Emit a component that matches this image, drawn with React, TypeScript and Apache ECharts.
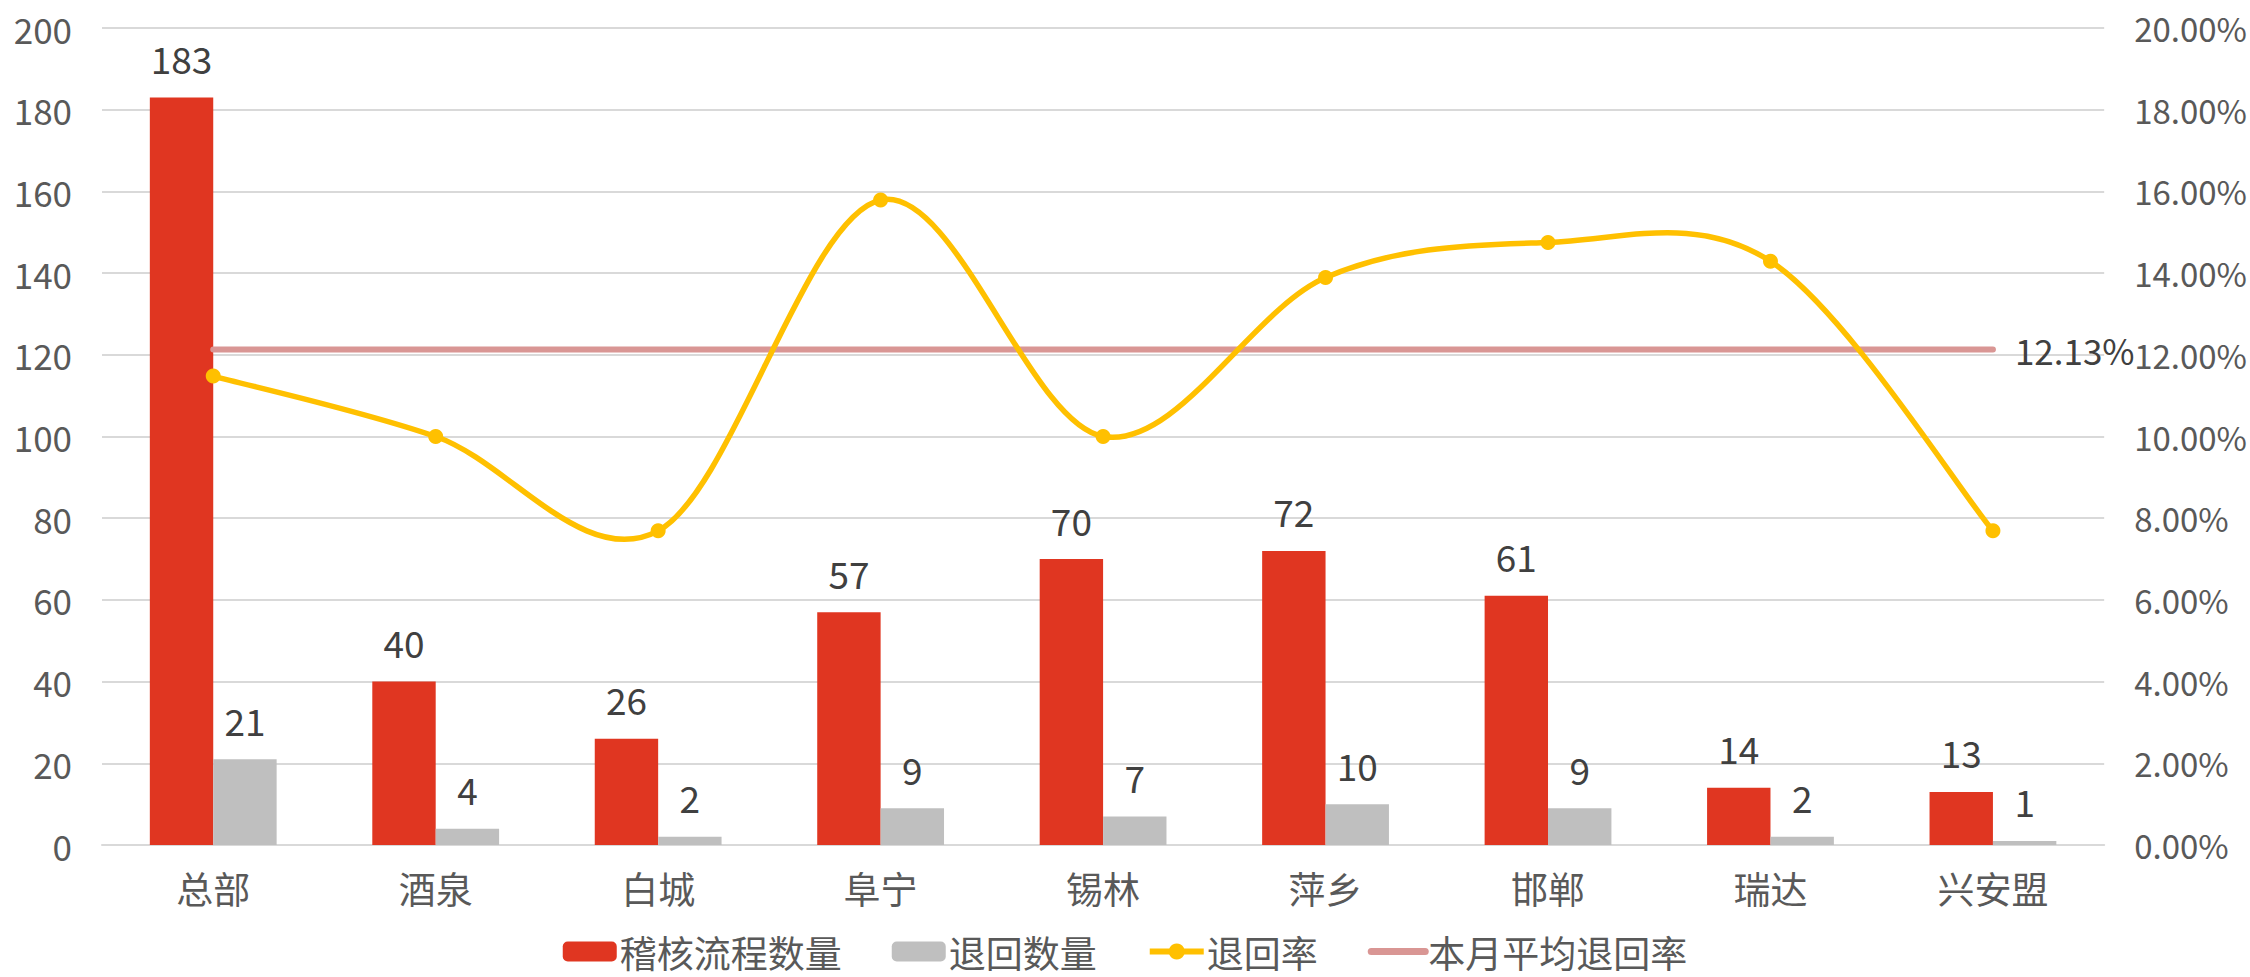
import React, { useEffect, useRef } from "react";
import * as echarts from "echarts";

const categories = ["总部", "酒泉", "白城", "阜宁", "锡林", "萍乡", "邯郸", "瑞达", "兴安盟"];
const auditCounts = [183, 40, 26, 57, 70, 72, 61, 14, 13];
const returnCounts = [21, 4, 2, 9, 7, 10, 9, 2, 1];
const returnRates = [0.1148, 0.1, 0.0769, 0.1579, 0.1, 0.1389, 0.1475, 0.1429, 0.0769];
const avgRates = [0.1213, 0.1213, 0.1213, 0.1213, 0.1213, 0.1213, 0.1213, 0.1213, 0.1213];
const avgLabel = "12.13%";
const seriesNames = ["稽核流程数量", "退回数量", "退回率", "本月平均退回率"];

const FONT = "'Noto Sans CJK SC', 'Liberation Sans', sans-serif";
const YELLOW = "#FFC000";
const PINK = "#D99694";

export default function App() {
  const ref = useRef<HTMLDivElement>(null);
  useEffect(() => {
    if (!ref.current) return;
    const chart = echarts.init(ref.current, null, { renderer: "svg", width: 2250, height: 977 });
    const labelStyle = { color: "#404040", fontSize: 37, fontFamily: FONT };

    // Excel-like smoothed curve (Catmull-Rom) drawn segment by segment
    const renderCurve = (params: any, api: any) => {
      const i = params.dataIndex;
      const n = returnRates.length;
      if (i >= n - 1) return { type: "group", children: [] };
      const pt = (k: number) => {
        const kk = Math.max(0, Math.min(n - 1, k));
        return api.coord([kk, returnRates[kk]]);
      };
      const p0 = pt(i - 1);
      const p1 = pt(i);
      const p2 = pt(i + 1);
      const p3 = pt(i + 2);
      const t = 1 / 6;
      return {
        type: "bezierCurve",
        shape: {
          x1: p1[0],
          y1: p1[1],
          cpx1: p1[0] + (p2[0] - p0[0]) * t,
          cpy1: p1[1] + (p2[1] - p0[1]) * t,
          cpx2: p2[0] - (p3[0] - p1[0]) * t,
          cpy2: p2[1] - (p3[1] - p1[1]) * t,
          x2: p2[0],
          y2: p2[1],
        },
        style: { stroke: YELLOW, lineWidth: 5.5, fill: "none", lineCap: "round" },
        silent: true,
      };
    };

    chart.setOption({
      animation: false,
      backgroundColor: "#ffffff",
      textStyle: { fontFamily: FONT },
      grid: { left: 102, right: 133, top: 28, bottom: 132, containLabel: false },
      legend: {
        bottom: 2,
        left: "center",
        itemWidth: 54,
        itemHeight: 20,
        itemGap: 50,
        textStyle: { color: "#595959", fontSize: 37, fontFamily: FONT, padding: [0, 0, 0, -2] },
        data: [
          { name: seriesNames[0] },
          { name: seriesNames[1] },
          {
            name: seriesNames[2],
            itemStyle: { color: YELLOW, opacity: 1 },
            lineStyle: { color: YELLOW, width: 6, opacity: 1 },
          },
          {
            name: seriesNames[3],
            itemStyle: { color: PINK, opacity: 0 },
            lineStyle: { color: PINK, width: 7, opacity: 1, cap: "round" },
          },
        ],
      },
      xAxis: {
        type: "category",
        data: categories,
        axisLine: { lineStyle: { color: "#D9D9D9", width: 2 } },
        axisTick: { show: false },
        axisLabel: { color: "#595959", fontSize: 37, fontFamily: FONT, margin: 24 },
      },
      yAxis: [
        {
          type: "value",
          min: 0,
          max: 200,
          interval: 20,
          axisLine: { show: false },
          axisTick: { show: false },
          axisLabel: { color: "#595959", fontSize: 35, fontFamily: FONT, margin: 30 },
          splitLine: { lineStyle: { color: "#D9D9D9", width: 2 } },
        },
        {
          type: "value",
          min: 0,
          max: 0.2,
          interval: 0.02,
          axisLine: { show: false },
          axisTick: { show: false },
          splitLine: { show: false },
          axisLabel: {
            color: "#595959",
            fontSize: 33,
            fontFamily: FONT,
            margin: 30,
            formatter: (v: number) => (v * 100).toFixed(2) + "%",
          },
        },
      ],
      series: [
        {
          name: seriesNames[0],
          type: "bar",
          data: auditCounts,
          barGap: "0%",
          barCategoryGap: "43%",
          itemStyle: { color: "#E03621" },
          label: { show: true, position: "top", distance: 21, ...labelStyle },
        },
        {
          name: seriesNames[1],
          type: "bar",
          data: returnCounts,
          itemStyle: { color: "#BFBFBF" },
          label: { show: true, position: "top", distance: 21, ...labelStyle },
        },
        {
          name: seriesNames[3],
          type: "line",
          yAxisIndex: 1,
          data: avgRates,
          symbol: "none",
          lineStyle: { color: PINK, width: 6, cap: "round" },
          itemStyle: { color: PINK },
          endLabel: {
            show: true,
            formatter: () => avgLabel,
            distance: 22,
            color: "#404040",
            fontSize: 35,
            fontFamily: FONT,
          },
          z: 3,
        },
        {
          name: seriesNames[2],
          type: "line",
          yAxisIndex: 1,
          data: returnRates,
          symbol: "circle",
          symbolSize: 15,
          lineStyle: { color: YELLOW, width: 5.5, opacity: 0 },
          itemStyle: { color: YELLOW },
          z: 5,
        },
        {
          name: "退回率曲线",
          type: "custom",
          yAxisIndex: 1,
          data: returnRates.map((v, i) => [i, v]),
          renderItem: renderCurve,
          encode: { x: 0, y: 1 },
          z: 4,
          silent: true,
        },
      ],
    });
    return () => chart.dispose();
  }, []);
  return (
    <div
      ref={ref}
      style={{ position: "fixed", left: 0, top: 0, width: 2250, height: 977, background: "#fff" }}
    />
  );
}
